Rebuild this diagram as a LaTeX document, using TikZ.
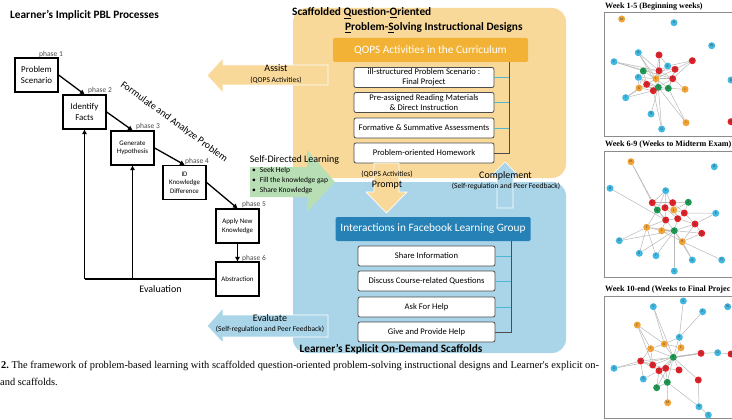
\documentclass[tikz,border=0pt]{standalone}
\usepackage{fontspec}
\setmainfont{Carlito}
\newfontfamily\seriffont{Liberation Serif}
\usetikzlibrary{arrows.meta}
\pgfdeclarelayer{bg}
\pgfdeclarelayer{edges}
\pgfsetlayers{bg,edges,main}
\definecolor{orgbg}{RGB}{248,217,154}
\definecolor{orgbar}{RGB}{242,178,54}
\definecolor{bluebg}{RGB}{170,213,232}
\definecolor{bluebar}{RGB}{38,130,182}
\definecolor{greenarr}{RGB}{183,222,180}
\definecolor{tealln}{RGB}{80,182,208}
\definecolor{nOr}{RGB}{240,162,52}
\definecolor{nBl}{RGB}{64,184,226}
\definecolor{nRd}{RGB}{226,32,40}
\definecolor{nGr}{RGB}{30,152,82}
\newcommand{\fsz}[2]{\fontsize{#1pt}{#2pt}\selectfont}
\tikzset{
  phasebox/.style={draw, line width=1.3pt, minimum width=43pt, minimum height=34pt, inner sep=1pt, align=center, font=\fsz{8.9}{10.2}},
  phasesm/.style={phasebox, font=\fsz{6.9}{8.6}},
  phaselbl/.style={inner sep=0pt, font=\fsz{7.5}{9}, text=black!70},
  flow/.style={line width=1.3pt, -{Triangle[length=4.5pt,width=4.5pt]}},
  plainln/.style={line width=1.3pt},
  wbox/.style={draw=black!70, line width=0.8pt, fill=white, rounded corners=2pt, minimum height=20pt, align=center, font=\fsz{8.6}{10}, inner sep=1pt},
  hbar/.style={rounded corners=1.5pt, minimum width=195pt, minimum height=24pt, text=white, font=\fsz{11.3}{13}},
  sect/.style={inner sep=0pt, font=\bfseries\fsz{11.3}{13}},
  arrlbl/.style={inner sep=0pt, font=\fsz{10}{12}},
  arrsub/.style={inner sep=0pt, font=\fsz{7.5}{9}},
  bigarr/.style={draw=white, line width=0.7pt},
  brk/.style={draw=black!70, line width=0.8pt},
  tl/.style={draw=tealln, line width=0.8pt},
  nd/.style={circle, inner sep=0pt, minimum size=7pt, font=\fsz{3.6}{4}, text=black!75},
  edge/.style={draw=black!28, line width=0.5pt},
  frame/.style={draw=black!45, line width=0.8pt},
  ptitle/.style={anchor=west, inner sep=0pt, font=\seriffont\bfseries\fsz{8.1}{9}},
}
\begin{document}
\begin{tikzpicture}[x=1pt,y=-1pt]
\useasboundingbox (0,0) rectangle (732,420);
\begin{pgfonlayer}{bg}
\fill[white] (0,0) rectangle (732,420);
\end{pgfonlayer}

% ---------- left: implicit PBL processes ----------
\node[sect, anchor=west] (title) at (10,15) {Learner’s Implicit PBL Processes};

\node[phasebox] (p1) at (36.5,75) {Problem\\Scenario};
\node[phasebox] (p2) at (84.5,112) {Identify\\Facts};
\node[phasesm] (p3) at (132.5,148) {Generate\\Hypothesis};
\node[phasesm] (p4) at (184.5,182.5) {ID\\Knowledge\\Difference};
\node[phasesm] (p5) at (237.5,226) {Apply New\\Knowledge};
\node[phasesm] (p6) at (237.5,279) {Abstraction};

\node[phaselbl] (l1) at (51,55) {phase 1};
\node[phaselbl] (l2) at (100,91) {phase 2};
\node[phaselbl] (l3) at (148,127) {phase 3};
\node[phaselbl] (l4) at (197,161.5) {phase 4};
\node[phaselbl] (l5) at (254,204.5) {phase 5};
\node[phaselbl] (l6) at (254,258) {phase 6};

\draw[flow] (p1.east) -- (p2.north);
\draw[flow] (p2.east) -- (p3.north);
\draw[flow] (p3.east) -- (p4.north);
\draw[flow] (p4.east) -- (p5.north);
\draw[flow] (p5.south) -- (p6.north);
\coordinate (fb) at (p2.south |- p6.west);
\coordinate (fb3) at (p3.south |- p6.west);
\draw[plainln] (p6.west) -- (fb);
\draw[flow] (fb) -- (p2.south);
\draw[flow] (fb3) -- (p3.south);

\node[arrlbl] (evaltxt) at (160.5,289) {Evaluation};
\node[arrlbl, rotate=-36] (form) at (174,122) {Formulate and Analyze Problem};

% ---------- middle: regions ----------
\fill[orgbg, rounded corners=14pt] (293,8) rectangle (566,178);
\fill[bluebg, rounded corners=14pt] (293,182) rectangle (566,353);

\node[sect, anchor=west] (st1) at (292,13) {Scaffolded \underline{Q}uestion-\underline{O}riented};
\node[sect, anchor=west] (st2) at (345,27.5) {\underline{P}roblem-\underline{S}olving Instructional Designs};

\node[hbar, fill=orgbar] (qops) at (430.5,50) {QOPS Activities in the Curriculum};
\node[wbox, minimum width=140pt] (q1) at (424,77.5) {ill-structured Problem Scenario :\\Final Project};
\node[wbox, minimum width=140pt] (q2) at (424,102.5) {Pre-assigned Reading Materials\\\& Direct Instruction};
\node[wbox, minimum width=140pt] (q3) at (424,128) {Formative \& Summative Assessments};
\node[wbox, minimum width=140pt] (q4) at (424,153) {Problem-oriented Homework};
\coordinate (qb) at (509,62);
\draw[brk] (qb) |- (q4.east);
\foreach \i in {1,2,3} \draw[tl] (q\i.east) -- (q\i.east -| qb);

\node[hbar, fill=bluebar] (fbg) at (433,229) {Interactions in Facebook Learning Group};
\node[wbox, minimum width=137pt] (f1) at (426.5,256) {Share Information};
\node[wbox, minimum width=137pt] (f2) at (426.5,281) {Discuss Course-related Questions};
\node[wbox, minimum width=137pt] (f3) at (426.5,307) {Ask For Help};
\node[wbox, minimum width=137pt] (f4) at (426.5,332) {Give and Provide Help};
\coordinate (fbk) at (511,241);
\draw[brk] (fbk) |- (f4.east);
\foreach \i in {1,2,3} \draw[tl] (f\i.east) -- (f\i.east -| fbk);

\node[sect] (bt) at (391,349) {Learner’s Explicit On-Demand Scaffolds};

% ---------- big arrows ----------
% Assist (left, orange)
\filldraw[fill=orgbg, bigarr] (328,65) -- (223,65) -- (223,58) -- (207,75.5) -- (223,93) -- (223,85) -- (328,85) -- cycle;
\node[arrlbl] (assist) at (276,68.5) {Assist};
\node[arrsub] (assistsub) at (276,80) {(QOPS Activities)};

% Evaluate (left, blue)
\filldraw[fill=bluebg, bigarr] (328,315) -- (223,315) -- (223,308) -- (207,326) -- (223,343) -- (223,337) -- (328,337) -- cycle;
\node[arrlbl] (evaluate) at (270,318) {Evaluate};
\node[arrsub] (evalsub) at (270,329.5) {(Self-regulation and Peer Feedback)};

% Self-directed learning (right, green)
\fill[greenarr] (250,167) -- (307,167) -- (307,150) -- (335,182) -- (307,212) -- (307,197) -- (250,197) -- cycle;
\node[arrlbl] (sdl) at (294.5,160) {Self-Directed Learning};
\node[anchor=north west, align=left, inner sep=0pt, font=\fsz{7.5}{10}] (sdlb) at (252,167) {•\hspace{4pt}Seek Help\\•\hspace{4pt}Fill the knowledge gap\\•\hspace{4pt}Share Knowledge};

% Prompt (down, orange)
\filldraw[fill=orgbg, bigarr] (374,163) -- (399,163) -- (399,192) -- (407,192) -- (386.5,213) -- (366,192) -- (374,192) -- cycle;
\node[arrsub] (promptsub) at (387,174) {(QOPS Activities)};
\node[arrlbl] (prompt) at (387,185.5) {Prompt};

% Complement (up, blue)
\filldraw[fill=bluebg, bigarr] (497,208) -- (497,176) -- (491,176) -- (505,162) -- (519,176) -- (513,176) -- (513,208) -- cycle;
\node[arrlbl] (compl) at (505.5,176) {Complement};
\node[arrsub] (complsub) at (506,186.5) {(Self-regulation and Peer Feedback)};

% ---------- caption ----------
\node[anchor=base west, inner sep=0pt, font=\seriffont\fsz{10.4}{12}] (cap1) at (1,368) {\textbf{2.}\ The framework of problem-based learning with scaffolded question-oriented problem-solving instructional designs and Learner's explicit on-};
\node[anchor=base west, inner sep=0pt, font=\seriffont\fsz{10.4}{12}] (cap2) at (0,385) {and scaffolds.};

% ---------- right: network panels ----------
\begin{scope}
\clip (600,0) rectangle (732,420);
\node[ptitle] (t1) at (605,7) {Week 1-5 (Beginning weeks)};
\node[ptitle] (t2) at (605,145) {Week 6-9 (Weeks to Midterm Exam)};
\node[ptitle] (t3) at (605,290) {Week 10-end (Weeks to Final Projec};
\draw[frame] (604,12) rectangle (745,136);
\draw[frame] (604,151) rectangle (745,277);
\draw[frame] (604,296) rectangle (745,418);

% panel 1
\foreach \n/\l/\x/\y/\c in {M/M/621.7/19/nOr, O/O/674/22.7/nBl, W/W/711.7/45.7/nBl, N/N/638.3/52.7/nBl, S/S/659/55/nRd, D/D/692.3/60.7/nRd, V/V/614/61.7/nBl, R/R/667.7/66/nBl, Z/Z/643.3/71/nGr, C/C/659/70.7/nRd, H/H/675/69.3/nRd, P/P/638.3/77.3/nBl, L/L/656/78.7/nOr, F/F/672.7/78.7/nRd, G/G/646.7/84.3/nRd, Y/Y/658.3/87.3/nGr, X/X/668.3/88.3/nGr, J/J/685/89.3/nOr, K/K/639/88/nOr, E/E/653.3/90.7/nRd, T/T/625.7/97.7/nBl, Q/Q/651/114/nBl, I/I/686/122.7/nOr, U/U/661.7/129/nBl, pB/B/731/80/nBl, pA/A/731/121.7/nRd}
  \node[nd, fill=\c] (a\n) at (\x,\y) {\l};
% panel 2
\foreach \n/\l/\x/\y/\c in {M/M/631/161.7/nOr, B/B/714.3/166.7/nBl, N/N/610/188.3/nBl, V/V/665.7/190.7/nBl, E/E/652.3/202.7/nRd, I/I/672.7/202.7/nRd, Z/Z/688.3/202.3/nGr, X/X/657.3/210/nGr, H/H/665/207.7/nRd, L/L/673.7/210/nOr, C/C/684.3/213/nRd, P/P/715.7/213.3/nBl, D/D/665.7/220/nRd, G/G/677.7/218.7/nRd, A/A/695/224/nRd, F/F/646.7/227.3/nOr, J/J/661.7/230.7/nOr, Y/Y/674.3/230.7/nGr, Q/Q/701.7/233.3/nRd, K/K/682.3/241.7/nOr, O/O/619.3/240.7/nBl, R/R/639.3/253.3/nBl, T/T/656/255.7/nBl, U/U/692.3/260/nBl, Qb/Q/721.7/260/nBl, S/S/674.3/271/nBl}
  \node[nd, fill=\c] (b\n) at (\x,\y) {\l};
% panel 3
\foreach \n/\l/\x/\y/\c in {S/S/683.3/301/nBl, V/V/653.3/306.7/nBl, W/W/727.7/306.7/nBl, R/R/702.7/311.7/nBl, F/F/637.3/325/nOr, P/P/679.3/337.3/nBl, K/K/664.3/344/nOr, I/I/650.7/348.7/nOr, L/L/681/347.7/nOr, Y/Y/673.3/357.3/nGr, A/A/701/353.3/nRd, U/U/717.7/352.7/nBl, pR/B/731/354/nRd, B/B/640.7/361/nRd, E/E/652.7/365/nRd, O/O/614/368.3/nBl, D/D/665.7/368.3/nRd, G/F/659/370.7/nRd, C/C/679/370/nRd, Q/Q/643.3/379/nBl, H/H/698.3/380/nRd, X/X/667.3/382.3/nGr, Z/Z/656.7/387.7/nGr, M/M/667.7/402.7/nOr, N/N/699/406.7/nBl, T/T/708.3/415/nBl}
  \node[nd, fill=\c] (c\n) at (\x,\y) {\l};
\end{scope}

\begin{pgfonlayer}{edges}
\foreach \u/\v in {N/C, N/L, N/Y, V/Z, V/C, V/F, S/C, S/R, S/L, D/H, D/R, D/F, R/C, R/H, R/L, Z/C, Z/P, Z/L, Z/G, C/H, C/L, C/F, C/Y, H/F, H/X, P/L, P/G, P/K, L/F, L/G, L/Y, L/X, F/X, F/J, F/Y, G/Y, G/E, G/K, Y/X, Y/E, X/J, K/E, K/Y, E/X, T/K, T/E, T/G, Q/Y, U/Y, U/E, I/Y, I/X, Z/K, P/Y, H/L}
  \draw[edge] (a\u) -- (a\v);
\foreach \u/\v in {M/E, M/X, N/D, V/E, V/L, V/X, V/H, E/I, E/X, E/H, E/D, I/L, I/Z, I/G, I/C, Z/C, Z/L, X/H, X/D, X/F, H/L, H/D, H/G, L/G, L/C, C/G, C/A, P/A, P/C, D/G, D/Y, D/F, D/J, G/A, G/Y, A/Q, A/Y, A/K, F/J, F/Y, F/O, F/R, F/T, J/Y, J/K, Y/K, Y/Q, Y/U, Y/S, Y/T, Y/R, K/Qb, K/U, K/Q, O/Y}
  \draw[edge] (b\u) -- (b\v);
\foreach \u/\v in {S/P, V/K, V/Y, R/P, F/K, F/I, F/E, P/K, P/L, P/Y, K/I, K/Y, K/L, I/Y, I/B, I/E, L/Y, A/U, U/pR, Y/B, Y/E, Y/D, Y/C, Y/G, Y/O, Y/H, Y/X, Y/Z, B/E, B/Q, B/G, E/G, E/D, D/C, D/G, G/X, G/Z, G/Q, X/M, X/N, X/Z, H/N, N/T, O/B, D/X}
  \draw[edge] (c\u) -- (c\v);
\draw[edge, line width=1.3pt] (cY) -- (cA);
\end{pgfonlayer}
\end{tikzpicture}
\end{document}
